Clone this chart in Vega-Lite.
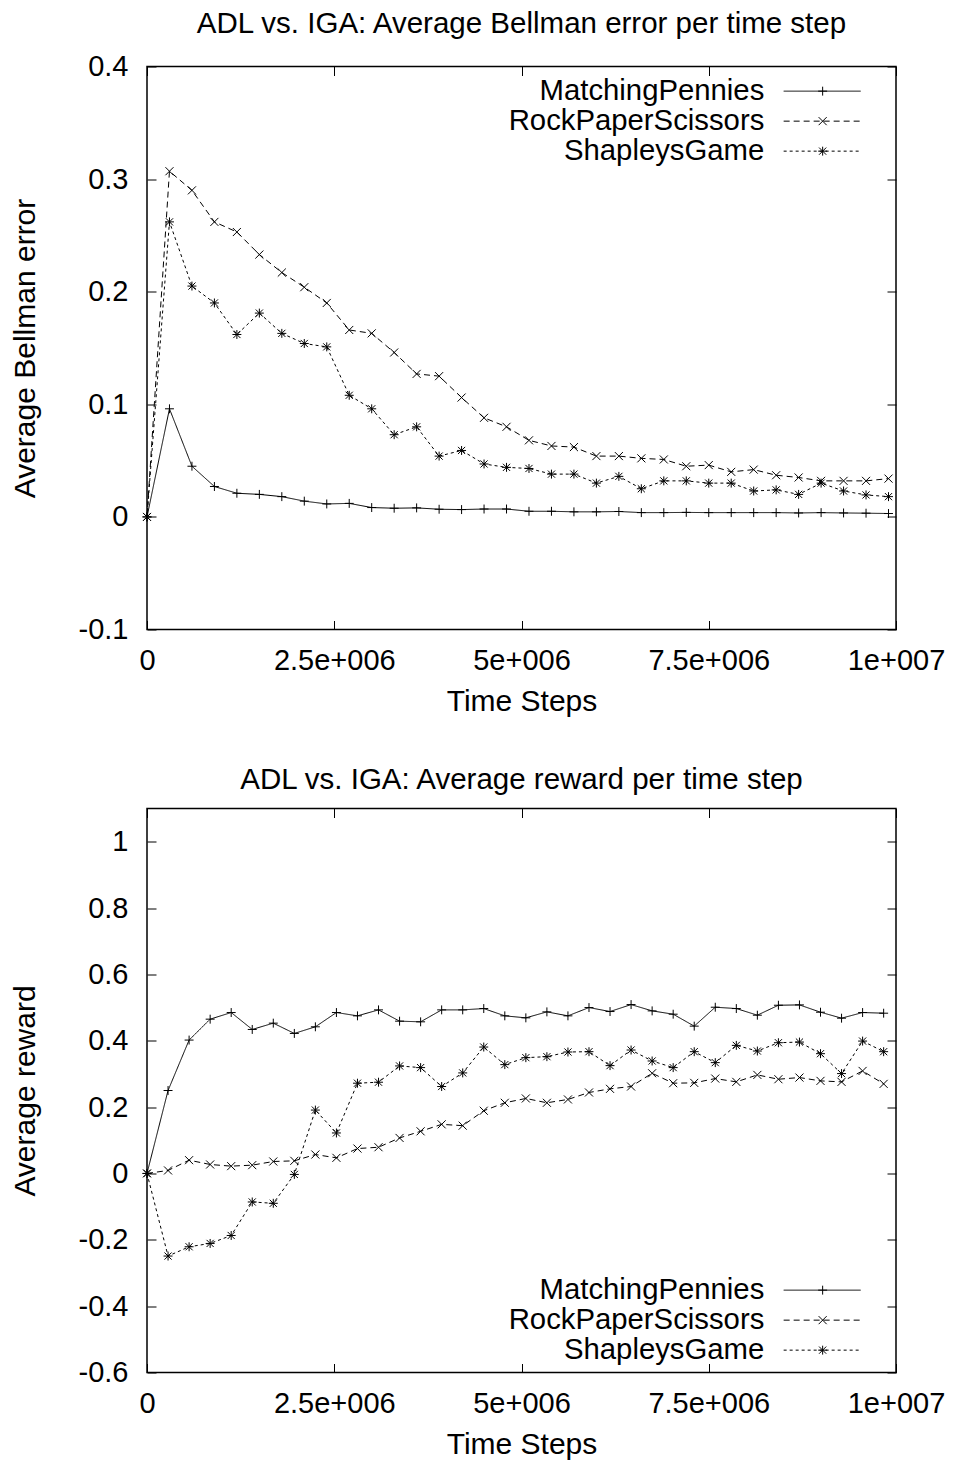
{
  "$schema": "https://vega.github.io/schema/vega-lite/v6.json",
  "padding": {"left": 9, "top": 7.5, "right": 5, "bottom": 2},
  "config": {
    "font": "Liberation Sans",
    "view": {"stroke": "black", "strokeWidth": 1.5},
    "axis": {
      "domain": false, "grid": false, "tickColor": "black", "tickSize": -9, "tickWidth": 1,
      "labelFontSize": 29, "labelColor": "black", "labelFlush": false, "labelOverlap": false,
      "titleFontSize": 30, "titleFontWeight": "normal", "titleColor": "black"
    },
    "title": {"fontSize": 29.5, "fontWeight": "normal", "color": "black", "offset": 13, "baseline": "bottom"},
    "legend": {
      "title": null, "orient": "none", "padding": 0, "labelFontSize": 29.3, "labelColor": "black",
      "labelLimit": 0, "rowPadding": -0.5, "symbolOffset": 0, "symbolStrokeColor": "black",
      "symbolStrokeWidth": 1, "symbolFillColor": "transparent"
    }
  },
  "datasets": {
    "bellman": [
      {"step": 0, "MatchingPennies": 0, "RockPaperScissors": 0, "ShapleysGame": 0},
      {"step": 300000, "MatchingPennies": 0.096, "RockPaperScissors": 0.307, "ShapleysGame": 0.262},
      {"step": 600000, "MatchingPennies": 0.045, "RockPaperScissors": 0.290, "ShapleysGame": 0.205},
      {"step": 900000, "MatchingPennies": 0.027, "RockPaperScissors": 0.262, "ShapleysGame": 0.190},
      {"step": 1200000, "MatchingPennies": 0.021, "RockPaperScissors": 0.253, "ShapleysGame": 0.162},
      {"step": 1500000, "MatchingPennies": 0.020, "RockPaperScissors": 0.233, "ShapleysGame": 0.181},
      {"step": 1800000, "MatchingPennies": 0.018, "RockPaperScissors": 0.217, "ShapleysGame": 0.163},
      {"step": 2100000, "MatchingPennies": 0.014, "RockPaperScissors": 0.204, "ShapleysGame": 0.154},
      {"step": 2400000, "MatchingPennies": 0.0115, "RockPaperScissors": 0.190, "ShapleysGame": 0.151},
      {"step": 2700000, "MatchingPennies": 0.012, "RockPaperScissors": 0.166, "ShapleysGame": 0.108},
      {"step": 3000000, "MatchingPennies": 0.0083, "RockPaperScissors": 0.163, "ShapleysGame": 0.096},
      {"step": 3300000, "MatchingPennies": 0.0077, "RockPaperScissors": 0.146, "ShapleysGame": 0.073},
      {"step": 3600000, "MatchingPennies": 0.008, "RockPaperScissors": 0.127, "ShapleysGame": 0.080},
      {"step": 3900000, "MatchingPennies": 0.0068, "RockPaperScissors": 0.125, "ShapleysGame": 0.054},
      {"step": 4200000, "MatchingPennies": 0.0065, "RockPaperScissors": 0.106, "ShapleysGame": 0.059},
      {"step": 4500000, "MatchingPennies": 0.007, "RockPaperScissors": 0.088, "ShapleysGame": 0.047},
      {"step": 4800000, "MatchingPennies": 0.007, "RockPaperScissors": 0.080, "ShapleysGame": 0.044},
      {"step": 5100000, "MatchingPennies": 0.005, "RockPaperScissors": 0.068, "ShapleysGame": 0.043},
      {"step": 5400000, "MatchingPennies": 0.005, "RockPaperScissors": 0.063, "ShapleysGame": 0.038},
      {"step": 5700000, "MatchingPennies": 0.0045, "RockPaperScissors": 0.062, "ShapleysGame": 0.038},
      {"step": 6000000, "MatchingPennies": 0.0045, "RockPaperScissors": 0.054, "ShapleysGame": 0.030},
      {"step": 6300000, "MatchingPennies": 0.0048, "RockPaperScissors": 0.054, "ShapleysGame": 0.036},
      {"step": 6600000, "MatchingPennies": 0.0038, "RockPaperScissors": 0.052, "ShapleysGame": 0.025},
      {"step": 6900000, "MatchingPennies": 0.0038, "RockPaperScissors": 0.051, "ShapleysGame": 0.032},
      {"step": 7200000, "MatchingPennies": 0.004, "RockPaperScissors": 0.045, "ShapleysGame": 0.032},
      {"step": 7500000, "MatchingPennies": 0.0038, "RockPaperScissors": 0.046, "ShapleysGame": 0.030},
      {"step": 7800000, "MatchingPennies": 0.0038, "RockPaperScissors": 0.040, "ShapleysGame": 0.030},
      {"step": 8100000, "MatchingPennies": 0.0038, "RockPaperScissors": 0.042, "ShapleysGame": 0.023},
      {"step": 8400000, "MatchingPennies": 0.0038, "RockPaperScissors": 0.037, "ShapleysGame": 0.024},
      {"step": 8700000, "MatchingPennies": 0.0035, "RockPaperScissors": 0.035, "ShapleysGame": 0.020},
      {"step": 9000000, "MatchingPennies": 0.0038, "RockPaperScissors": 0.032, "ShapleysGame": 0.030},
      {"step": 9300000, "MatchingPennies": 0.0035, "RockPaperScissors": 0.032, "ShapleysGame": 0.023},
      {"step": 9600000, "MatchingPennies": 0.0033, "RockPaperScissors": 0.032, "ShapleysGame": 0.0195},
      {"step": 9900000, "MatchingPennies": 0.003, "RockPaperScissors": 0.034, "ShapleysGame": 0.018}
    ],
    "reward": [
      {"step": 0, "MatchingPennies": 0, "RockPaperScissors": 0, "ShapleysGame": 0},
      {"step": 281000, "MatchingPennies": 0.250, "RockPaperScissors": 0.009, "ShapleysGame": -0.249},
      {"step": 562000, "MatchingPennies": 0.402, "RockPaperScissors": 0.040, "ShapleysGame": -0.221},
      {"step": 843000, "MatchingPennies": 0.465, "RockPaperScissors": 0.027, "ShapleysGame": -0.211},
      {"step": 1124000, "MatchingPennies": 0.485, "RockPaperScissors": 0.022, "ShapleysGame": -0.187},
      {"step": 1405000, "MatchingPennies": 0.434, "RockPaperScissors": 0.025, "ShapleysGame": -0.086},
      {"step": 1686000, "MatchingPennies": 0.453, "RockPaperScissors": 0.036, "ShapleysGame": -0.090},
      {"step": 1967000, "MatchingPennies": 0.422, "RockPaperScissors": 0.038, "ShapleysGame": -0.003},
      {"step": 2248000, "MatchingPennies": 0.442, "RockPaperScissors": 0.057, "ShapleysGame": 0.191},
      {"step": 2529000, "MatchingPennies": 0.485, "RockPaperScissors": 0.047, "ShapleysGame": 0.122},
      {"step": 2810000, "MatchingPennies": 0.475, "RockPaperScissors": 0.075, "ShapleysGame": 0.272},
      {"step": 3091000, "MatchingPennies": 0.493, "RockPaperScissors": 0.079, "ShapleysGame": 0.275},
      {"step": 3372000, "MatchingPennies": 0.459, "RockPaperScissors": 0.107, "ShapleysGame": 0.324},
      {"step": 3653000, "MatchingPennies": 0.457, "RockPaperScissors": 0.127, "ShapleysGame": 0.319},
      {"step": 3934000, "MatchingPennies": 0.493, "RockPaperScissors": 0.148, "ShapleysGame": 0.262},
      {"step": 4215000, "MatchingPennies": 0.493, "RockPaperScissors": 0.144, "ShapleysGame": 0.303},
      {"step": 4496000, "MatchingPennies": 0.497, "RockPaperScissors": 0.189, "ShapleysGame": 0.381},
      {"step": 4777000, "MatchingPennies": 0.475, "RockPaperScissors": 0.213, "ShapleysGame": 0.328},
      {"step": 5058000, "MatchingPennies": 0.469, "RockPaperScissors": 0.226, "ShapleysGame": 0.349},
      {"step": 5339000, "MatchingPennies": 0.487, "RockPaperScissors": 0.213, "ShapleysGame": 0.352},
      {"step": 5620000, "MatchingPennies": 0.475, "RockPaperScissors": 0.223, "ShapleysGame": 0.366},
      {"step": 5901000, "MatchingPennies": 0.500, "RockPaperScissors": 0.244, "ShapleysGame": 0.367},
      {"step": 6182000, "MatchingPennies": 0.488, "RockPaperScissors": 0.255, "ShapleysGame": 0.325},
      {"step": 6463000, "MatchingPennies": 0.509, "RockPaperScissors": 0.262, "ShapleysGame": 0.372},
      {"step": 6744000, "MatchingPennies": 0.490, "RockPaperScissors": 0.302, "ShapleysGame": 0.339},
      {"step": 7025000, "MatchingPennies": 0.480, "RockPaperScissors": 0.272, "ShapleysGame": 0.319},
      {"step": 7306000, "MatchingPennies": 0.444, "RockPaperScissors": 0.273, "ShapleysGame": 0.367},
      {"step": 7587000, "MatchingPennies": 0.501, "RockPaperScissors": 0.286, "ShapleysGame": 0.334},
      {"step": 7868000, "MatchingPennies": 0.497, "RockPaperScissors": 0.276, "ShapleysGame": 0.386},
      {"step": 8149000, "MatchingPennies": 0.477, "RockPaperScissors": 0.297, "ShapleysGame": 0.369},
      {"step": 8430000, "MatchingPennies": 0.507, "RockPaperScissors": 0.284, "ShapleysGame": 0.394},
      {"step": 8711000, "MatchingPennies": 0.508, "RockPaperScissors": 0.289, "ShapleysGame": 0.396},
      {"step": 8992000, "MatchingPennies": 0.486, "RockPaperScissors": 0.279, "ShapleysGame": 0.361},
      {"step": 9273000, "MatchingPennies": 0.468, "RockPaperScissors": 0.276, "ShapleysGame": 0.301},
      {"step": 9554000, "MatchingPennies": 0.485, "RockPaperScissors": 0.309, "ShapleysGame": 0.399},
      {"step": 9835000, "MatchingPennies": 0.483, "RockPaperScissors": 0.270, "ShapleysGame": 0.367}
    ]
  },
  "bounds": "flush",
  "spacing": 179,
  "resolve": {"scale": {"shape": "independent", "strokeDash": "independent"}},
  "vconcat": [
    {
      "title": {"text": "ADL vs. IGA: Average Bellman error per time step"},
      "width": 749,
      "height": 563,
      "data": {"name": "bellman"},
      "transform": [{"fold": ["MatchingPennies", "RockPaperScissors", "ShapleysGame"], "as": ["game", "value"]}],
      "layer": [
        {
          "mark": {"type": "line", "color": "black", "strokeWidth": 1},
          "encoding": {
            "x": {"field": "step", "type": "quantitative",
              "scale": {"domain": [0, 10000000], "nice": false, "zero": false},
              "axis": {"orient": "bottom", "values": [0, 2500000, 5000000, 7500000, 10000000],
                "labelExpr": "datum.value === 0 ? '0' : datum.value === 2500000 ? '2.5e+006' : datum.value === 5000000 ? '5e+006' : datum.value === 7500000 ? '7.5e+006' : '1e+007'",
                "title": "Time Steps", "labelPadding": 25.5, "titlePadding": 11}},
            "y": {"field": "value", "type": "quantitative",
              "scale": {"domain": [-0.1, 0.4], "nice": false, "zero": false},
              "axis": {"orient": "left", "values": [-0.1, 0, 0.1, 0.2, 0.3, 0.4],
                "labelExpr": "'' + datum.value", "title": "Average Bellman error",
                "labelPadding": 28, "titlePadding": 37.5}},
            "strokeDash": {"field": "game", "type": "nominal",
              "scale": {"range": [[1, 0], [6, 4], [3, 3]]},
              "legend": {"legendX": 660.5, "legendY": 10, "symbolType": "M-7.7,0L7.7,0", "symbolSize": 100,
                "labelAlign": "right", "labelOffset": -72.5}}
          }
        },
        {
          "mark": {"type": "point", "filled": false, "color": "black", "strokeWidth": 1, "size": 80, "opacity": 1},
          "encoding": {
            "x": {"field": "step", "type": "quantitative",
              "axis": {"orient": "top", "values": [0, 2500000, 5000000, 7500000, 10000000], "labels": false, "title": null}},
            "y": {"field": "value", "type": "quantitative",
              "axis": {"orient": "right", "values": [-0.1, 0, 0.1, 0.2, 0.3, 0.4], "labels": false, "title": null}},
            "shape": {"field": "game", "type": "nominal",
              "scale": {"domain": ["MatchingPennies", "RockPaperScissors", "ShapleysGame"],
                "range": ["M-1,0L1,0M0,-1L0,1", "M-0.9,-0.9L0.9,0.9M-0.9,0.9L0.9,-0.9", "M-1,0L1,0M0,-1L0,1M-0.8,-0.8L0.8,0.8M-0.8,0.8L0.8,-0.8"]},
              "legend": {"legendX": 661, "legendY": 10, "symbolSize": 80, "labelExpr": "' '"}}
          }
        }
      ],
      "resolve": {"axis": {"x": "independent", "y": "independent"}}
    },
    {
      "title": {"text": "ADL vs. IGA: Average reward per time step"},
      "width": 749,
      "height": 564,
      "data": {"name": "reward"},
      "transform": [{"fold": ["MatchingPennies", "RockPaperScissors", "ShapleysGame"], "as": ["game", "value"]}],
      "layer": [
        {
          "mark": {"type": "line", "color": "black", "strokeWidth": 1},
          "encoding": {
            "x": {"field": "step", "type": "quantitative",
              "scale": {"domain": [0, 10000000], "nice": false, "zero": false},
              "axis": {"orient": "bottom", "values": [0, 2500000, 5000000, 7500000, 10000000],
                "labelExpr": "datum.value === 0 ? '0' : datum.value === 2500000 ? '2.5e+006' : datum.value === 5000000 ? '5e+006' : datum.value === 7500000 ? '7.5e+006' : '1e+007'",
                "title": "Time Steps", "labelPadding": 25.5, "titlePadding": 11}},
            "y": {"field": "value", "type": "quantitative",
              "scale": {"domain": [-0.6, 1.1], "nice": false, "zero": false},
              "axis": {"orient": "left", "values": [-0.6, -0.4, -0.2, 0, 0.2, 0.4, 0.6, 0.8, 1],
                "labelExpr": "'' + datum.value", "title": "Average reward",
                "labelPadding": 28, "titlePadding": 37.5}},
            "strokeDash": {"field": "game", "type": "nominal",
              "scale": {"range": [[1, 0], [6, 4], [3, 3]]},
              "legend": {"legendX": 660.5, "legendY": 467, "symbolType": "M-7.7,0L7.7,0", "symbolSize": 100,
                "labelAlign": "right", "labelOffset": -72.5}}
          }
        },
        {
          "mark": {"type": "point", "filled": false, "color": "black", "strokeWidth": 1, "size": 80, "opacity": 1},
          "encoding": {
            "x": {"field": "step", "type": "quantitative",
              "axis": {"orient": "top", "values": [0, 2500000, 5000000, 7500000, 10000000], "labels": false, "title": null}},
            "y": {"field": "value", "type": "quantitative",
              "axis": {"orient": "right", "values": [-0.6, -0.4, -0.2, 0, 0.2, 0.4, 0.6, 0.8, 1], "labels": false, "title": null}},
            "shape": {"field": "game", "type": "nominal",
              "scale": {"domain": ["MatchingPennies", "RockPaperScissors", "ShapleysGame"],
                "range": ["M-1,0L1,0M0,-1L0,1", "M-0.9,-0.9L0.9,0.9M-0.9,0.9L0.9,-0.9", "M-1,0L1,0M0,-1L0,1M-0.8,-0.8L0.8,0.8M-0.8,0.8L0.8,-0.8"]},
              "legend": {"legendX": 661, "legendY": 467, "symbolSize": 80, "labelExpr": "' '"}}
          }
        }
      ],
      "resolve": {"axis": {"x": "independent", "y": "independent"}}
    }
  ]
}
